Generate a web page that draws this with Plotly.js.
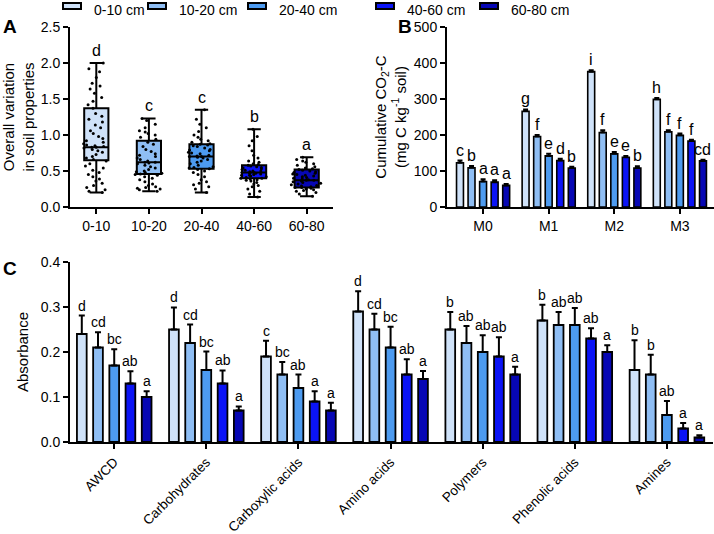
<!DOCTYPE html>
<html><head><meta charset="utf-8">
<script src="https://cdn.plot.ly/plotly-3.0.1.min.js"></script>
<style>html,body{margin:0;padding:0;background:#fff}#chart{width:714px;height:534px}</style>
</head><body><div id="chart"></div>
<script>
// ---------- Data ----------
const depths = ['0-10', '10-20', '20-40', '40-60', '60-80'];
const legendLabels = ['0-10 cm', '10-20 cm', '20-40 cm', '40-60 cm', '60-80 cm'];
const colors = ['#cfe2f9', '#8fbef4', '#4d9bf0', '#0b14f6', '#0707b4'];

// Panel A: box statistics
const boxQ1 = [0.65, 0.46, 0.53, 0.40, 0.27];
const boxMed = [0.83, 0.62, 0.70, 0.48, 0.37];
const boxQ3 = [1.37, 0.92, 0.87, 0.58, 0.52];
const boxLo = [0.20, 0.22, 0.20, 0.14, 0.15];
const boxHi = [2.00, 1.23, 1.35, 1.08, 0.69];
const boxLetters = ['d', 'c', 'c', 'b', 'a'];
// Panel A: individual points
const pts0 = [2.0, 1.92, 1.88, 1.8, 1.72, 1.68, 1.64, 1.58, 1.52, 1.47, 1.42, 1.37, 1.3, 1.26, 1.22, 1.18, 1.14, 1.1, 1.06, 1.02, 0.98, 0.95, 0.92, 0.9, 0.88, 0.86, 0.85, 0.84, 0.83, 0.83, 0.82, 0.8, 0.78, 0.76, 0.73, 0.7, 0.68, 0.66, 0.64, 0.6, 0.57, 0.54, 0.51, 0.48, 0.45, 0.42, 0.39, 0.36, 0.33, 0.3, 0.27, 0.24, 0.22, 0.2];
const pts1 = [1.23, 1.2, 1.15, 1.1, 1.06, 1.04, 1.02, 1.0, 0.97, 0.94, 0.9, 0.87, 0.84, 0.8, 0.77, 0.74, 0.72, 0.7, 0.68, 0.66, 0.64, 0.62, 0.62, 0.61, 0.6, 0.58, 0.56, 0.54, 0.52, 0.5, 0.49, 0.48, 0.47, 0.46, 0.45, 0.44, 0.42, 0.4, 0.38, 0.35, 0.32, 0.3, 0.28, 0.27, 0.26, 0.25, 0.24, 0.22];
const pts2 = [1.35, 1.22, 1.15, 1.1, 1.05, 1.0, 0.97, 0.94, 0.92, 0.9, 0.88, 0.87, 0.86, 0.85, 0.84, 0.82, 0.8, 0.79, 0.78, 0.76, 0.75, 0.74, 0.72, 0.71, 0.7, 0.7, 0.69, 0.68, 0.66, 0.64, 0.62, 0.6, 0.58, 0.56, 0.55, 0.54, 0.53, 0.52, 0.5, 0.48, 0.45, 0.42, 0.38, 0.35, 0.33, 0.31, 0.28, 0.25, 0.2];
const pts3 = [1.08, 0.98, 0.92, 0.85, 0.78, 0.72, 0.68, 0.64, 0.62, 0.6, 0.59, 0.58, 0.57, 0.56, 0.55, 0.54, 0.53, 0.52, 0.51, 0.5, 0.5, 0.49, 0.48, 0.48, 0.47, 0.47, 0.46, 0.45, 0.44, 0.44, 0.43, 0.42, 0.41, 0.4, 0.4, 0.39, 0.38, 0.37, 0.36, 0.34, 0.32, 0.3, 0.28, 0.25, 0.22, 0.18, 0.14];
const pts4 = [0.69, 0.66, 0.64, 0.62, 0.6, 0.58, 0.56, 0.54, 0.53, 0.52, 0.51, 0.5, 0.49, 0.48, 0.47, 0.46, 0.45, 0.44, 0.43, 0.42, 0.41, 0.4, 0.39, 0.38, 0.37, 0.37, 0.36, 0.35, 0.34, 0.33, 0.32, 0.31, 0.3, 0.29, 0.28, 0.27, 0.27, 0.26, 0.25, 0.24, 0.23, 0.22, 0.2, 0.18, 0.15];
const ptsAll = [pts0, pts1, pts2, pts3, pts4];

// Panel B: cumulative CO2-C
const months = ['M0', 'M1', 'M2', 'M3'];
const co2 = [
  [123, 266, 376, 299],
  [109, 196, 207, 209],
  [71, 142, 148, 199],
  [69, 129, 138, 183],
  [60, 108, 108, 128]
];
const co2Err = [
  [6, 5, 4, 4],
  [5, 4, 6, 4],
  [6, 6, 5, 5],
  [5, 5, 4, 4],
  [4, 4, 5, 3]
];
const co2Letters = [
  ['c', 'g', 'i', 'h'],
  ['b', 'f', 'f', 'f'],
  ['a', 'e', 'e', 'f'],
  ['a', 'd', 'e', 'f'],
  ['a', 'b', 'b', 'cd']
];

// Panel C: absorbance
const substrates = ['AWCD', 'Carbohydrates', 'Carboxylic acids', 'Amino acids', 'Polymers', 'Phenolic acids', 'Amines'];
const absVals = [
  [0.24, 0.25, 0.19, 0.29, 0.25, 0.27, 0.16],
  [0.21, 0.22, 0.15, 0.25, 0.22, 0.26, 0.15],
  [0.17, 0.16, 0.12, 0.21, 0.20, 0.26, 0.06],
  [0.13, 0.13, 0.09, 0.15, 0.19, 0.23, 0.03],
  [0.10, 0.07, 0.07, 0.14, 0.15, 0.20, 0.01]
];
const absErr = [
  [0.041, 0.049, 0.035, 0.045, 0.039, 0.035, 0.066],
  [0.034, 0.041, 0.028, 0.035, 0.038, 0.029, 0.044],
  [0.036, 0.041, 0.030, 0.046, 0.037, 0.038, 0.031],
  [0.027, 0.029, 0.023, 0.034, 0.043, 0.023, 0.012],
  [0.013, 0.009, 0.017, 0.018, 0.017, 0.015, 0.005]
];
const absLetters = [
  ['d', 'd', 'c', 'd', 'b', 'b', 'b'],
  ['cd', 'cd', 'bc', 'cd', 'ab', 'ab', 'b'],
  ['bc', 'bc', 'ab', 'bc', 'ab', 'ab', 'ab'],
  ['ab', 'ab', 'a', 'ab', 'ab', 'ab', 'a'],
  ['a', 'a', 'a', 'a', 'a', 'a', 'a']
];

// ---------- Build ----------
const W = 714, H = 534;
const px = v => v / W;
const py = v => 1 - v / H;
const FONT = 'Liberation Sans, Arial, sans-serif';
const BARGAP = 0.12, BARGROUPGAP = 0.4;
const traces = [];
const annotations = [];
const shapes = [];

// Panel A boxes (precomputed stats)
depths.forEach((d, i) => {
  traces.push({
    type: 'box', xaxis: 'x', yaxis: 'y', x: [d],
    q1: [boxQ1[i]], median: [boxMed[i]], q3: [boxQ3[i]],
    lowerfence: [boxLo[i]], upperfence: [boxHi[i]],
    fillcolor: colors[i], line: {color: '#000', width: 2},
    width: 0.46, whiskerwidth: 0.55, boxpoints: false,
    showlegend: false, hoverinfo: 'skip'
  });
});
// Panel A points
depths.forEach((d, i) => {
  traces.push({
    type: 'box', xaxis: 'x', yaxis: 'y',
    x: ptsAll[i].map(() => d), y: ptsAll[i],
    boxpoints: 'all', jitter: 1, pointpos: 0, width: 0.6,
    fillcolor: 'rgba(0,0,0,0)', line: {color: 'rgba(0,0,0,0)', width: 0},
    marker: {color: '#000', size: 3},
    showlegend: false, hoverinfo: 'skip'
  });
  annotations.push({
    xref: 'x', yref: 'y', x: i, y: boxHi[i], text: boxLetters[i],
    showarrow: false, yanchor: 'bottom', yshift: 2,
    font: {family: FONT, size: 16, color: '#000'}
  });
});

// Panel B bars
const slot = (1 - BARGAP) / 5;
depths.forEach((d, j) => {
  traces.push({
    type: 'bar', xaxis: 'x2', yaxis: 'y2', x: months, y: co2[j],
    marker: {color: colors[j], line: {color: '#000', width: 1.6}},
    error_y: {type: 'data', symmetric: false, array: co2Err[j], arrayminus: co2Err[j].map(() => 0),
      color: '#000', thickness: 2, width: 2.5},
    showlegend: false, hoverinfo: 'skip'
  });
  months.forEach((m, i) => {
    annotations.push({
      xref: 'x2', yref: 'y2', x: i + (j - 2) * slot, y: co2[j][i] + co2Err[j][i],
      text: co2Letters[j][i], showarrow: false, yanchor: 'bottom', yshift: 0,
      font: {family: FONT, size: 16, color: '#000'}
    });
  });
});

// Panel C bars
depths.forEach((d, j) => {
  traces.push({
    type: 'bar', xaxis: 'x3', yaxis: 'y3', x: substrates, y: absVals[j],
    marker: {color: colors[j], line: {color: '#000', width: 1.8}},
    error_y: {type: 'data', symmetric: false, array: absErr[j], arrayminus: absErr[j].map(() => 0),
      color: '#000', thickness: 2, width: 3},
    showlegend: false, hoverinfo: 'skip'
  });
  substrates.forEach((s, i) => {
    annotations.push({
      xref: 'x3', yref: 'y3', x: i + (j - 2) * slot, y: absVals[j][i] + absErr[j][i],
      text: absLetters[j][i], showarrow: false, yanchor: 'bottom', yshift: 0,
      font: {family: FONT, size: 14, color: '#000'}
    });
  });
});

// Custom legend
const legSymX = [63, 148, 248, 376, 480];
legendLabels.forEach((lab, i) => {
  shapes.push({type: 'rect', xref: 'paper', yref: 'paper',
    x0: px(legSymX[i]), x1: px(legSymX[i] + 18), y0: py(9), y1: py(3),
    fillcolor: colors[i], line: {color: '#000', width: 2}});
  annotations.push({xref: 'paper', yref: 'paper', x: px(legSymX[i] + 29), y: 1,
    text: lab, showarrow: false, xanchor: 'left', yanchor: 'top',
    font: {family: FONT, size: 14, color: '#000'}});
});

// Panel letters
[['A', 10, 26], ['B', 405, 26], ['C', 10, 268]].forEach(([t, x, y]) => {
  annotations.push({xref: 'paper', yref: 'paper', x: px(x), y: py(y), text: '<b>' + t + '</b>',
    showarrow: false, xanchor: 'center', yanchor: 'middle',
    font: {family: FONT, size: 19, color: '#000'}});
});

const axBase = {
  showline: true, linecolor: '#000', linewidth: 2, mirror: false,
  ticks: 'outside', ticklen: 5, tickwidth: 2, tickcolor: '#000',
  showgrid: false, zeroline: false, fixedrange: true,
  tickfont: {family: FONT, size: 14, color: '#000'}
};
const titleFont = {family: FONT, size: 15, color: '#000'};

const layout = {
  width: W, height: H,
  margin: {l: 0, r: 0, t: 0, b: 0},
  paper_bgcolor: '#fff', plot_bgcolor: 'rgba(0,0,0,0)',
  font: {family: FONT, color: '#000'},
  showlegend: false,
  barmode: 'group', bargap: BARGAP, bargroupgap: BARGROUPGAP,
  boxmode: 'overlay',
  xaxis: Object.assign({}, axBase, {domain: [px(70), px(333)], anchor: 'y', type: 'category',
    range: [-0.5, 4.5]}),
  yaxis: Object.assign({}, axBase, {domain: [py(207), py(27)], anchor: 'x', range: [0, 2.5],
    dtick: 0.5, tickformat: '.1f',
    title: {text: 'Overall variation<br>in soil properties', font: titleFont, standoff: 5}}),
  xaxis2: Object.assign({}, axBase, {domain: [px(447), 1], anchor: 'y2', type: 'category',
    range: [-0.55, 3.52]}),
  yaxis2: Object.assign({}, axBase, {domain: [py(207), py(27)], anchor: 'x2', range: [0, 500],
    dtick: 100,
    title: {text: 'Cumulative CO<sub>2</sub>-C<br>(mg C kg<sup>-1</sup> soil)', font: titleFont, standoff: 4}}),
  xaxis3: Object.assign({}, axBase, {domain: [px(70), px(713)], anchor: 'y3', type: 'category',
    range: [-0.48, 6.5], tickangle: -45, tickfont: {family: FONT, size: 13.5, color: '#000'}}),
  yaxis3: Object.assign({}, axBase, {domain: [py(442), py(262)], anchor: 'x3', range: [0, 0.4],
    dtick: 0.1, tickformat: '.1f',
    title: {text: 'Absorbance', font: titleFont, standoff: 8}}),
  annotations: annotations,
  shapes: shapes
};

Plotly.newPlot('chart', traces, layout, {staticPlot: true, displayModeBar: false});
</script></body></html>
